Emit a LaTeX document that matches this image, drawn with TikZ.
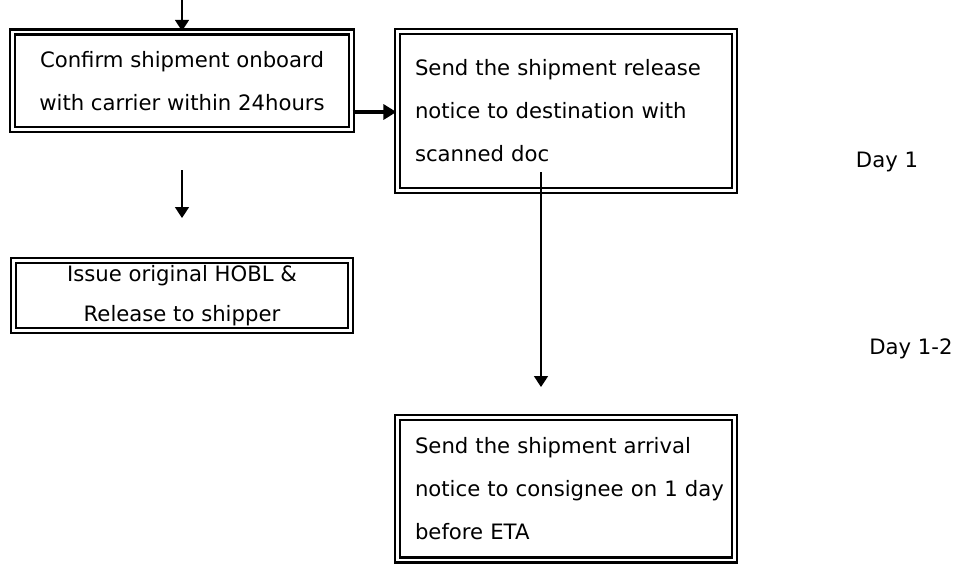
\documentclass[tikz,border=0pt]{standalone}
\usepackage{fontspec}
\setmainfont{DejaVu Sans}
\usetikzlibrary{arrows.meta}
\begin{document}
\begin{tikzpicture}[x=1pt,y=-1pt,
  box/.style={draw, double, line width=2.2pt, double distance=2.8pt, inner sep=0pt, fill=white,
    font=\fontsize{21.2}{43}\selectfont},
  lbl/.style={font=\fontsize{21.2}{43}\selectfont, inner sep=0pt},
  arr/.style={line width=1.6pt, -{Triangle[length=11pt,width=14pt]}},
  thickarr/.style={line width=3.2pt, -{Triangle[length=13pt,width=15pt]}}]
\useasboundingbox (0,0) rectangle (973,563);
\node[box, minimum width=339pt, minimum height=97.5pt, align=center] (b1) at (182,80.75)
  {Confirm shipment onboard\\with carrier within 24hours};
\node[box, minimum width=337pt, minimum height=158.5pt, text width=302pt, align=left] (b2) at (566,111)
  {Send the shipment release\\notice to destination with\\scanned doc};
\node[box, minimum width=337pt, minimum height=70pt, align=center,
  font=\fontsize{21.2}{40}\selectfont] (b3) at (182,295.5)
  {Issue original HOBL \&\\Release to shipper};
\node[box, minimum width=337pt, minimum height=142.5pt, text width=302pt, align=left] (b4) at (566,488.75)
  {Send the shipment arrival\\\mbox{notice to consignee on 1 day}\\before ETA};
\node[lbl] (d1) at (887,162) {Day 1};
\node[lbl] (d2) at (911,349) {Day 1-2};
\coordinate (top) at (182,0);
\coordinate (h12) at (0,112);
\coordinate (s13) at (182,170);
\coordinate (e13) at (182,218);
\coordinate (s24) at (541,172);
\coordinate (e24) at (541,387);
\draw[arr] (top) -- (b1.north);
\draw[thickarr] (b1.east |- h12) -- (b2.west |- h12);
\draw[arr] (s13) -- (e13);
\draw[arr] (s24) -- (e24);
\end{tikzpicture}
\end{document}
